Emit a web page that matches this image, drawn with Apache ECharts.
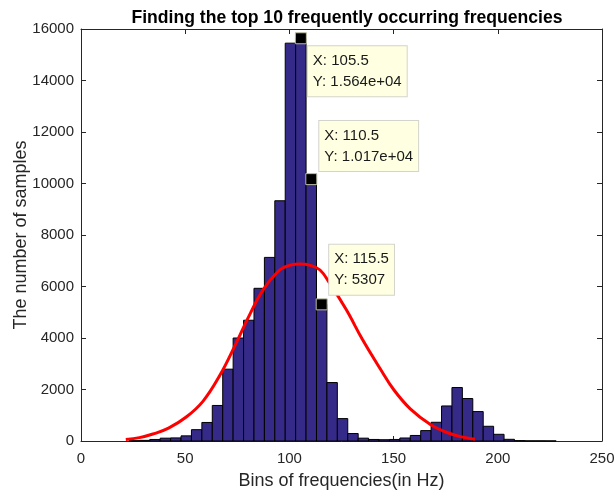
<!DOCTYPE html>
<html>
<head>
<meta charset="utf-8">
<script src="https://cdn.jsdelivr.net/npm/echarts@6/dist/echarts.min.js"></script>
<style>
html,body{margin:0;padding:0;background:#fff;}
#chart{width:615px;height:497px;}
</style>
</head>
<body>
<div id="chart"></div>
<script>
// Histogram bins (centers, Hz) and counts
const binCenters = [25.5,30.5,35.5,40.5,45.5,50.5,55.5,60.5,65.5,70.5,75.5,80.5,85.5,90.5,95.5,100.5,105.5,110.5,115.5,120.5,125.5,130.5,135.5,140.5,145.5,150.5,155.5,160.5,165.5,170.5,175.5,180.5,185.5,190.5,195.5,200.5,205.5,210.5,215.5,220.5,225.5];
const binCounts  = [10,25,60,110,120,200,440,720,1380,2790,4000,4690,5930,7130,9330,15450,15640,10170,5307,2270,870,290,110,60,50,60,117,215,404,727,1361,2077,1649,1143,572,260,66,15,5,5,3];
const binWidth = 5;

// Fitted curve samples
const fitX = [21.5,28,34.5,42,50.5,58.5,66.5,74.5,80,87.3,95.3,100,105,110,114.7,119.4,127.4,135,143.5,150,158,168,175,182,189];
const fitY = [60,130,270,500,930,1540,2530,3810,4750,5860,6640,6820,6870,6820,6640,6120,5083,3950,2815,2000,1250,620,350,170,70];

// Data tips
const tipX = [105.5, 110.5, 115.5];
const tipY = [15640, 10170, 5307];
const tipText = ['X: 105.5\nY: 1.564e+04', 'X: 110.5\nY: 1.017e+04', 'X: 115.5\nY: 5307'];

// Axis ticks
const xTicks = [0, 50, 100, 150, 200, 250];
const yTicks = [0, 2000, 4000, 6000, 8000, 10000, 12000, 14000, 16000];

const FONT = 'Liberation Sans, Arial, Helvetica, sans-serif';
const AX = '#262626';

const chart = echarts.init(document.getElementById('chart'), null, {renderer: 'canvas'});

const tipOffsets = [[13, 14], [14, -52], [13.5, -53.5]];

const barData = binCenters.map((c, i) => [c, binCounts[i]]);
const fitData = fitX.map((x, i) => [x, fitY[i]]);
const tipData = tipX.map((x, i) => ({
  value: [x, tipY[i]],
  label: {
    show: true,
    formatter: tipText[i],
    position: tipOffsets[i],
    align: 'left',
    verticalAlign: 'top',
    backgroundColor: '#ffffe1',
    borderColor: '#d4d4cc',
    borderWidth: 1,
    padding: [4, 5, 4, 5],
    color: '#1a1a1a',
    fontFamily: FONT,
    fontSize: 15,
    lineHeight: 21
  }
}));

const baseAxisX = {
  type: 'value', min: xTicks[0], max: xTicks[xTicks.length - 1], interval: 50,
  axisLine: {show: true, onZero: false, lineStyle: {color: AX, width: 1}},
  axisTick: {show: true, inside: true, length: 5, lineStyle: {color: AX}},
  splitLine: {show: false}
};
const baseAxisY = {
  type: 'value', min: yTicks[0], max: yTicks[yTicks.length - 1], interval: 2000,
  axisLine: {show: true, onZero: false, lineStyle: {color: AX, width: 1}},
  axisTick: {show: true, inside: true, length: 5, lineStyle: {color: AX}},
  splitLine: {show: false}
};

chart.setOption({
  animation: false,
  backgroundColor: '#ffffff',
  title: {
    text: 'Finding the top 10 frequently occurring frequencies',
    left: 342, top: 4, textAlign: 'center',
    textStyle: {fontFamily: FONT, fontWeight: 'bold', fontSize: 17.6, color: '#000'}
  },
  grid: {left: 81, right: 13, top: 29, bottom: 56, containLabel: false, outerBoundsMode: 'none'},
  xAxis: [
    Object.assign({}, baseAxisX, {
      position: 'bottom',
      name: 'Bins of frequencies(in Hz)', nameLocation: 'middle', nameGap: 31,
      nameMoveOverlap: false,
      nameTextStyle: {fontFamily: FONT, fontSize: 18, color: AX},
      axisLabel: {show: true, color: AX, fontFamily: FONT, fontSize: 15, margin: 10,
        formatter: v => String(v)}
    }),
    Object.assign({}, baseAxisX, {position: 'top', axisLabel: {show: false}})
  ],
  yAxis: [
    Object.assign({}, baseAxisY, {
      position: 'left',
      name: 'The number of samples', nameLocation: 'middle', nameGap: 51,
      nameMoveOverlap: false,
      nameTextStyle: {fontFamily: FONT, fontSize: 18, color: AX},
      axisLabel: {show: true, color: AX, fontFamily: FONT, fontSize: 15, margin: 7,
        formatter: v => String(v)}
    }),
    Object.assign({}, baseAxisY, {position: 'right', axisLabel: {show: false}})
  ],
  series: [
    {
      type: 'custom',
      xAxisIndex: 0, yAxisIndex: 0,
      data: barData,
      renderItem: function (params, api) {
        const c = api.value(0), v = api.value(1);
        const p0 = api.coord([c - binWidth / 2, v]);
        const p1 = api.coord([c + binWidth / 2, 0]);
        return {
          type: 'rect',
          shape: {x: p0[0], y: p0[1], width: p1[0] - p0[0], height: p1[1] - p0[1]},
          style: {fill: '#352a87', stroke: '#000000', lineWidth: 1}
        };
      },
      z: 2
    },
    {
      type: 'line',
      data: fitData,
      smooth: 0.4,
      showSymbol: false,
      lineStyle: {color: '#ff0000', width: 3},
      z: 3
    },
    {
      type: 'scatter',
      data: tipData,
      symbol: 'rect',
      symbolSize: 11,
      itemStyle: {color: '#000000', borderColor: '#bdbda5', borderWidth: 1, opacity: 1},
      emphasis: {disabled: true},
      z: 5
    }
  ]
});
</script>
</body>
</html>
